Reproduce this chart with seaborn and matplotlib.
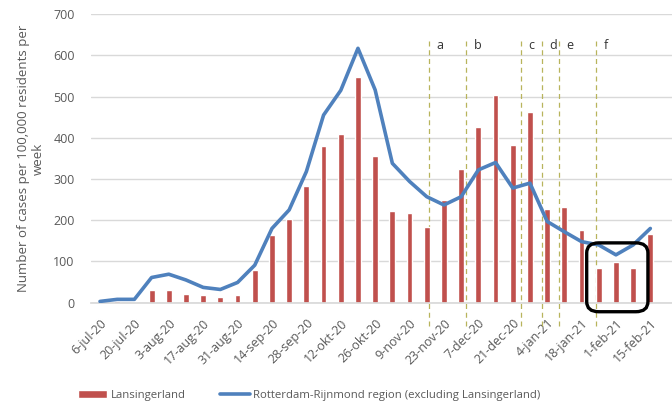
import numpy as np
import pandas as pd
import matplotlib
matplotlib.use('Agg')
import matplotlib.pyplot as plt
from matplotlib.patches import FancyBboxPatch
import seaborn as sns

# --- Data ---
weeks = ["6-jul-20", "13-jul-20", "20-jul-20", "27-jul-20", "3-aug-20", "10-aug-20",
         "17-aug-20", "24-aug-20", "31-aug-20", "7-sep-20", "14-sep-20", "21-sep-20",
         "28-sep-20", "5-okt-20", "12-okt-20", "19-okt-20", "26-okt-20", "2-nov-20",
         "9-nov-20", "16-nov-20", "23-nov-20", "30-nov-20", "7-dec-20", "14-dec-20",
         "21-dec-20", "28-dec-20", "4-jan-21", "11-jan-21", "18-jan-21", "25-jan-21",
         "1-feb-21", "8-feb-21", "15-feb-21"]
lansingerland = [1, 5, 2, 31, 31, 20, 18, 13, 19, 79, 163, 202,
                 284, 381, 408, 548, 356, 222, 218, 184, 248, 324,
                 426, 504, 383, 462, 227, 232, 176, 84, 98, 83, 166]
rotterdam = [3, 8, 8, 61, 69, 55, 37, 32, 49, 91, 180, 225,
             318, 455, 515, 617, 516, 338, 294, 257, 237, 257,
             322, 340, 278, 290, 197, 172, 148, 140, 116, 140, 180]
# measures marked a-f (position in week units)
measure_labels = ["a", "b", "c", "d", "e", "f"]
measure_pos = [19.13, 21.28, 24.48, 25.7, 26.67, 28.84]

df = pd.DataFrame({"week": weeks, "Lansingerland": lansingerland,
                   "Rotterdam": rotterdam})
df["idx"] = np.arange(len(df))

# --- Plot ---
sns.set_theme(style="white")
plt.rcParams['font.family'] = ['Open Sans', 'DejaVu Sans']
grey = '#595959'

fig = plt.figure(figsize=(6.72, 4.03), dpi=100)
ax = fig.add_axes([0.136, 0.249, 0.864, 0.716])

bars = ax.bar(df["idx"], df["Lansingerland"], width=0.34, color='#C0504D',
              label='Lansingerland', zorder=2)
sns.lineplot(data=df, x="idx", y="Rotterdam", ax=ax, color='#4F81BD',
             linewidth=2.6, zorder=3, legend=False)
line = ax.lines[-1]
line.set_label('Rotterdam-Rijnmond region (excluding Lansingerland)')

ax.set_xlim(-0.5, 33.26)
ax.set_ylim(0, 700)
ax.set_yticks(range(0, 701, 100))
ax.yaxis.grid(True, color='#D9D9D9', linewidth=1)
ax.set_axisbelow(True)
for s in ['top', 'right', 'left']:
    ax.spines[s].set_visible(False)
ax.spines['bottom'].set_color('#D9D9D9')

ax.set_xticks(df["idx"][::2])
ax.set_xticklabels(df["week"][::2], rotation=45, ha='right',
                   rotation_mode='anchor', fontsize=9, color=grey)
ax.tick_params(axis='y', labelsize=9, colors=grey, length=0, pad=12)
ax.tick_params(axis='x', length=0, pad=10)
ax.set_xlabel('')
ax.set_ylabel('Number of cases per 100,000 residents per\nweek', fontsize=9.5,
              color=grey, labelpad=6)

# dashed lines for measures
for lab, pos in zip(measure_labels, measure_pos):
    ax.axvline(pos, ymin=-0.08, ymax=0.915, color='#B8B45C', linestyle=(0, (4, 3)),
               linewidth=0.9, clip_on=False, zorder=1)
    ax.text(pos + 0.45, 624, lab, fontsize=9, color='#333333', va='center', ha='left')

# rounded box around last weeks
box = FancyBboxPatch((28.3, -22), 3.56, 167, boxstyle="round,pad=0,rounding_size=0.7",
                     mutation_aspect=35, fill=False, edgecolor='black',
                     linewidth=2.4, clip_on=False, zorder=4)
ax.add_patch(box)

fig.legend([bars, line], [bars.get_label(), line.get_label()],
           loc='lower center', bbox_to_anchor=(0.46, -0.02),
           ncol=2, frameon=False, fontsize=8.2, handlelength=2.6,
           columnspacing=3.0, handletextpad=0.3, labelcolor=grey)

fig.savefig('out.png', dpi=100)
